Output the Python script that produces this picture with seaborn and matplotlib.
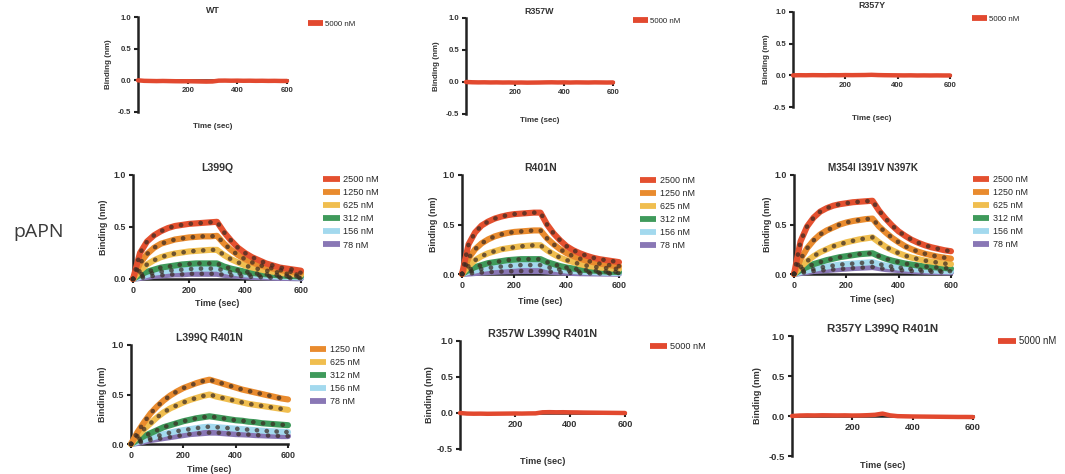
"""
BLI binding curves of pAPN mutants - 3x3 grid of sensorgrams.
Outputs out.png
"""

import matplotlib
matplotlib.use("Agg")
import matplotlib.pyplot as plt
from matplotlib.lines import Line2D
import pandas as pd
import seaborn as sns

sns.set_style("ticks")
plt.rcParams["font.family"] = ["Liberation Sans", "DejaVu Sans"]

W, H = 1065, 474

# ---------- data ------------------------------------------------------
TIME = [0, 25, 50, 75, 100, 125, 150, 175, 200, 225, 250, 275, 300,
        325, 350, 375, 400, 425, 450, 475, 500, 525, 550, 575, 600]

CONC_6 = ["2500 nM", "1250 nM", "625 nM", "312 nM", "156 nM", "78 nM"]
CONC_5 = ["1250 nM", "625 nM", "312 nM", "156 nM", "78 nM"]
CONC_NULL = ["5000 nM"]

COLORS = {"2500 nM": "#e4502f", "1250 nM": "#e98b2e", "625 nM": "#f0be4f",
          "312 nM": "#3f9a5b", "156 nM": "#a3d9ee", "78 nM": "#8977b5",
          "5000 nM": "#e2492f"}

# no-binding mutants (5000 nM)
WT_5000 = [0.0, -0.008, -0.01, -0.012, -0.01, -0.012, -0.014, -0.015, -0.014, -0.016, -0.018, -0.02, -0.018,
           -0.005, -0.004, -0.006, -0.005, -0.007, -0.006, -0.008, -0.007, -0.009, -0.008, -0.01, -0.01]
R357W_5000 = [0.0, -0.004, -0.006, -0.005, -0.007, -0.006, -0.008, -0.007, -0.009, -0.008, -0.01, -0.009, -0.008,
              -0.006, -0.005, -0.007, -0.006, -0.008, -0.006, -0.007, -0.008, -0.006, -0.007, -0.008, -0.007]
R357Y_5000 = [0.0, 0.002, 0.001, 0.003, 0.002, 0.001, 0.003, 0.002, 0.004, 0.003, 0.004, 0.005, 0.008,
              0.004, 0.002, 0.001, 0.0, -0.001, 0.0, -0.002, -0.001, -0.002, -0.001, -0.002, -0.002]
R357W_TRIPLE_5000 = [0.0, -0.008, -0.01, -0.009, -0.011, -0.01, -0.009, -0.008, -0.007, -0.008, -0.006, -0.005, 0.01,
                     0.012, 0.01, 0.011, 0.009, 0.008, 0.006, 0.005, 0.004, 0.003, 0.002, 0.001, 0.0]
R357Y_TRIPLE_5000 = [0.0, 0.006, 0.008, 0.007, 0.009, 0.008, 0.007, 0.008, 0.006, 0.007, 0.01, 0.015, 0.03,
                     0.008, -0.002, -0.004, -0.006, -0.007, -0.008, -0.009, -0.01, -0.011, -0.012, -0.012, -0.013]

# L399Q
L399Q_2500 = [0.0, 0.25, 0.36, 0.42, 0.46, 0.49, 0.51, 0.52, 0.53, 0.535, 0.54, 0.545, 0.55,
              0.45, 0.37, 0.30, 0.25, 0.21, 0.18, 0.15, 0.13, 0.11, 0.10, 0.09, 0.08]
L399Q_1250 = [0.0, 0.15, 0.24, 0.30, 0.34, 0.36, 0.38, 0.39, 0.40, 0.405, 0.41, 0.41, 0.415,
              0.34, 0.28, 0.23, 0.19, 0.16, 0.135, 0.115, 0.10, 0.085, 0.075, 0.065, 0.06]
L399Q_625 = [0.0, 0.08, 0.14, 0.18, 0.21, 0.23, 0.245, 0.255, 0.265, 0.27, 0.275, 0.28, 0.28,
             0.23, 0.19, 0.16, 0.13, 0.11, 0.095, 0.08, 0.07, 0.06, 0.05, 0.045, 0.04]
L399Q_312 = [0.0, 0.04, 0.07, 0.09, 0.11, 0.12, 0.13, 0.14, 0.145, 0.15, 0.15, 0.15, 0.15,
             0.12, 0.10, 0.085, 0.07, 0.06, 0.05, 0.045, 0.04, 0.035, 0.03, 0.028, 0.025]
L399Q_156 = [0.0, 0.02, 0.04, 0.06, 0.07, 0.08, 0.085, 0.09, 0.095, 0.10, 0.10, 0.10, 0.10,
             0.08, 0.065, 0.055, 0.045, 0.04, 0.035, 0.03, 0.025, 0.022, 0.02, 0.018, 0.015]
L399Q_78 = [0.0, 0.01, 0.02, 0.03, 0.035, 0.04, 0.045, 0.045, 0.05, 0.05, 0.05, 0.05, 0.05,
            0.04, 0.035, 0.03, 0.025, 0.02, 0.018, 0.015, 0.012, 0.01, 0.01, 0.008, 0.007]

# R401N
R401N_2500 = [0.0, 0.30, 0.42, 0.49, 0.53, 0.56, 0.58, 0.595, 0.605, 0.61, 0.615, 0.62, 0.62,
              0.50, 0.41, 0.34, 0.28, 0.24, 0.21, 0.185, 0.165, 0.15, 0.14, 0.13, 0.12]
R401N_1250 = [0.0, 0.16, 0.25, 0.31, 0.35, 0.38, 0.40, 0.415, 0.425, 0.43, 0.435, 0.44, 0.44,
              0.36, 0.30, 0.25, 0.21, 0.18, 0.155, 0.135, 0.12, 0.105, 0.095, 0.085, 0.08]
R401N_625 = [0.0, 0.08, 0.14, 0.18, 0.21, 0.23, 0.25, 0.26, 0.27, 0.28, 0.285, 0.29, 0.29,
             0.24, 0.20, 0.165, 0.14, 0.12, 0.10, 0.085, 0.075, 0.065, 0.06, 0.055, 0.05]
R401N_312 = [0.0, 0.04, 0.07, 0.09, 0.11, 0.12, 0.13, 0.14, 0.145, 0.15, 0.15, 0.15, 0.15,
             0.12, 0.10, 0.08, 0.065, 0.055, 0.045, 0.04, 0.035, 0.03, 0.025, 0.022, 0.02]
R401N_156 = [0.0, 0.02, 0.035, 0.05, 0.06, 0.07, 0.075, 0.08, 0.085, 0.09, 0.09, 0.09, 0.09,
             0.07, 0.055, 0.045, 0.035, 0.03, 0.025, 0.02, 0.018, 0.015, 0.013, 0.012, 0.01]
R401N_78 = [0.0, 0.005, 0.01, 0.015, 0.02, 0.022, 0.025, 0.027, 0.028, 0.03, 0.03, 0.03, 0.03,
            0.025, 0.02, 0.016, 0.013, 0.01, 0.008, 0.007, 0.006, 0.005, 0.004, 0.004, 0.003]

# M354I I391V N397K
MIN_2500 = [0.0, 0.33, 0.48, 0.57, 0.63, 0.665, 0.69, 0.705, 0.715, 0.725, 0.73, 0.735, 0.74,
            0.64, 0.56, 0.49, 0.43, 0.385, 0.345, 0.315, 0.29, 0.27, 0.255, 0.24, 0.23]
MIN_1250 = [0.0, 0.15, 0.26, 0.34, 0.40, 0.44, 0.47, 0.50, 0.52, 0.535, 0.545, 0.555, 0.56,
            0.48, 0.42, 0.365, 0.32, 0.28, 0.25, 0.225, 0.205, 0.19, 0.175, 0.165, 0.155]
MIN_625 = [0.0, 0.07, 0.13, 0.18, 0.22, 0.25, 0.28, 0.30, 0.32, 0.335, 0.35, 0.36, 0.37,
           0.32, 0.275, 0.24, 0.21, 0.185, 0.165, 0.15, 0.135, 0.125, 0.115, 0.105, 0.10]
MIN_312 = [0.0, 0.04, 0.07, 0.10, 0.12, 0.14, 0.155, 0.17, 0.18, 0.19, 0.20, 0.205, 0.21,
           0.18, 0.155, 0.135, 0.12, 0.105, 0.095, 0.085, 0.075, 0.07, 0.065, 0.06, 0.055]
MIN_156 = [0.0, 0.02, 0.035, 0.05, 0.065, 0.075, 0.085, 0.095, 0.10, 0.105, 0.11, 0.115, 0.12,
           0.10, 0.085, 0.075, 0.065, 0.057, 0.05, 0.045, 0.04, 0.036, 0.033, 0.03, 0.028]
MIN_78 = [0.0, 0.01, 0.02, 0.03, 0.035, 0.04, 0.045, 0.05, 0.055, 0.06, 0.063, 0.066, 0.07,
          0.06, 0.05, 0.045, 0.04, 0.035, 0.03, 0.027, 0.024, 0.022, 0.02, 0.018, 0.017]

# L399Q R401N
LR_1250 = [0.0, 0.12, 0.22, 0.31, 0.38, 0.44, 0.49, 0.53, 0.565, 0.59, 0.615, 0.635, 0.65,
           0.63, 0.61, 0.59, 0.57, 0.55, 0.535, 0.52, 0.505, 0.49, 0.475, 0.46, 0.45]
LR_625 = [0.0, 0.08, 0.15, 0.21, 0.27, 0.32, 0.36, 0.39, 0.42, 0.445, 0.465, 0.485, 0.50,
          0.48, 0.465, 0.45, 0.435, 0.42, 0.405, 0.395, 0.385, 0.375, 0.365, 0.355, 0.345]
LR_312 = [0.0, 0.04, 0.08, 0.11, 0.14, 0.17, 0.19, 0.21, 0.23, 0.245, 0.26, 0.27, 0.28,
          0.27, 0.26, 0.25, 0.24, 0.235, 0.225, 0.22, 0.21, 0.205, 0.20, 0.195, 0.19]
LR_156 = [0.0, 0.02, 0.04, 0.06, 0.08, 0.10, 0.115, 0.13, 0.14, 0.15, 0.16, 0.17, 0.175,
          0.17, 0.165, 0.16, 0.155, 0.15, 0.145, 0.14, 0.135, 0.13, 0.127, 0.124, 0.12]
LR_78 = [0.0, 0.01, 0.025, 0.04, 0.05, 0.06, 0.07, 0.08, 0.09, 0.10, 0.105, 0.11, 0.115,
         0.115, 0.11, 0.105, 0.10, 0.098, 0.095, 0.09, 0.088, 0.085, 0.083, 0.08, 0.08]

# ---------- panel layout (pixels: left, right, top, bottom) ------------
# plus label positions: xlabel y, ylabel x, legend (x, y), font sizes
PANELS = [
    dict(title="WT", series=[WT_5000], conc=CONC_NULL, box=(138, 287, 17, 112),
         xl=127, yl=108, leg=(308, 26), fs=(6.4, 5.6, 5.8, 5.7)),
    dict(title="R357W", series=[R357W_5000], conc=CONC_NULL, box=(466, 613, 18, 114),
         xl=120, yl=437, leg=(633, 23), fs=(6.4, 5.6, 5.8, 5.7)),
    dict(title="R357Y", series=[R357Y_5000], conc=CONC_NULL, box=(793, 950, 12, 107),
         xl=118, yl=767, leg=(972, 21), fs=(6.4, 5.6, 5.8, 5.7)),
    dict(title="L399Q", series=[L399Q_2500, L399Q_1250, L399Q_625, L399Q_312, L399Q_156, L399Q_78],
         conc=CONC_6, box=(133, 301, 175, 279), xl=303, yl=103, leg=(323, 181), fs=(7.6, 6.4, 6.4, 6.6)),
    dict(title="R401N", series=[R401N_2500, R401N_1250, R401N_625, R401N_312, R401N_156, R401N_78],
         conc=CONC_6, box=(462, 619, 175, 274), xl=302, yl=434, leg=(640, 182), fs=(7.6, 6.4, 6.4, 6.4)),
    dict(title="M354I I391V N397K", series=[MIN_2500, MIN_1250, MIN_625, MIN_312, MIN_156, MIN_78],
         conc=CONC_6, box=(794, 951, 175, 274), xl=300, yl=767, leg=(973, 181), fs=(7.2, 6.4, 6.4, 6.4)),
    dict(title="L399Q R401N", series=[LR_1250, LR_625, LR_312, LR_156, LR_78],
         conc=CONC_5, box=(131, 288, 345, 444), xl=470, yl=102, leg=(310, 351), fs=(7.5, 6.4, 6.4, 6.4)),
    dict(title="R357W L399Q R401N", series=[R357W_TRIPLE_5000], conc=CONC_NULL, box=(460, 625, 341, 449),
         xl=461, yl=429, leg=(650, 348), fs=(7.8, 6.6, 6.6, 6.6)),
    dict(title="R357Y L399Q R401N", series=[R357Y_TRIPLE_5000], conc=CONC_NULL, box=(792, 973, 336, 456),
         xl=466, yl=757, leg=(998, 342), fs=(8.2, 6.8, 6.6, 6.9)),
]

fig = plt.figure(figsize=(W / 100, H / 100), dpi=100)

for p in PANELS:
    left, right, top, bottom = p["box"]
    ax = fig.add_axes([left / W, 1 - bottom / H, (right - left) / W, (bottom - top) / H])
    f_title, f_tick, f_lab, f_leg = p["fs"]
    null = p["conc"] == CONC_NULL

    df = pd.DataFrame({
        "Time": TIME * len(p["series"]),
        "Binding": [v for s in p["series"] for v in s],
        "Conc": [c for c in p["conc"] for _ in TIME],
    })
    sns.lineplot(data=df, x="Time", y="Binding", hue="Conc", hue_order=p["conc"][::-1],
                 palette=COLORS, linewidth=3.2 if null else 4.4, legend=False, ax=ax,
                 clip_on=False, zorder=3)
    if not null:
        # fitted curves, dark dotted overlay
        for s in p["series"]:
            ax.plot(TIME, s, color="#3a2a22", lw=3.3, ls=(0, (0.05, 2.1)),
                    dash_capstyle="round", alpha=0.72, clip_on=False, zorder=4)

    ax.set_xlim(0, 600)
    if null:
        ax.set_ylim(-0.5, 1.0)
        ax.set_yticks([-0.5, 0.0, 0.5, 1.0], ["-0.5", "0.0", "0.5", "1.0"])
        ax.set_xticks([200, 400, 600], ["200", "400", "600"])
        ax.spines["bottom"].set_position(("data", 0))
    else:
        ax.set_ylim(0, 1.0)
        ax.set_yticks([0.0, 0.5, 1.0], ["0.0", "0.5", "1.0"])
        ax.set_xticks([0, 200, 400, 600], ["0", "200", "400", "600"])

    sns.despine(ax=ax)
    for side in ("left", "bottom"):
        ax.spines[side].set_linewidth(1.8)
        ax.spines[side].set_color("#222222")
        ax.spines[side].set_zorder(2)
    ax.tick_params(length=3, width=1.5, colors="#222222", pad=2, labelsize=f_tick)
    for lab in ax.get_xticklabels() + ax.get_yticklabels():
        lab.set_fontweight("bold")
        lab.set_color("#333333")

    ax.set_title(p["title"], fontsize=f_title, fontweight="bold", pad=3, color="#333333")
    ax.set_xlabel("Time (sec)", fontsize=f_lab, fontweight="bold", color="#333333")
    ax.set_ylabel("Binding (nm)", fontsize=f_lab, fontweight="bold", color="#333333")
    ax.xaxis.set_label_coords(0.5, (bottom - p["xl"]) / (bottom - top))
    ax.xaxis.label.set_va("center")
    ax.yaxis.set_label_coords((p["yl"] - left) / (right - left), 0.5)
    ax.yaxis.label.set_va("center")

    handles = [Line2D([], [], color=COLORS[c], lw=4.2, solid_capstyle="butt") for c in p["conc"]]
    lx, ly = p["leg"]
    ax.legend(handles, p["conc"], loc="upper left", frameon=False,
              bbox_to_anchor=(lx / W, 1 - (ly - 6) / H), bbox_transform=fig.transFigure,
              borderpad=0, borderaxespad=0, handlelength=1.85, handletextpad=0.35,
              labelspacing=0.45, prop={"size": f_leg, "family": ["Liberation Sans"]})

fig.text(39 / W, 1 - 232 / H, "pAPN", fontsize=14, color="#3a3a3a", ha="center", va="center",
         family=["Open Sans", "DejaVu Sans"])

fig.savefig("out.png", dpi=100)
plt.close(fig)
